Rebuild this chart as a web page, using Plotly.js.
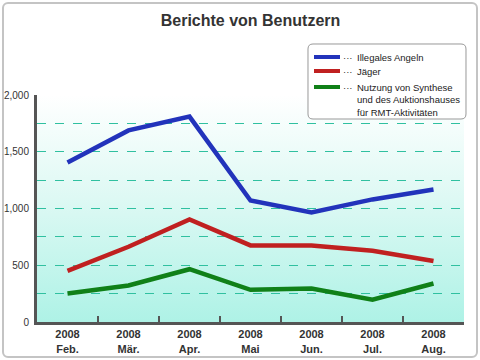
<!DOCTYPE html>
<html>
<head>
<meta charset="utf-8">
<script src="https://cdn.plot.ly/plotly-3.0.1.min.js"></script>
<style>
html,body{margin:0;padding:0;background:#fff;}
#wrap{position:relative;width:480px;height:360px;overflow:hidden;}
#chart{width:480px;height:360px;}
.box{position:absolute;pointer-events:none;box-sizing:border-box;}
#outer{left:2px;top:2px;width:476px;height:356px;border:2px solid #c4c4c4;border-radius:6px;}
</style>
</head>
<body>
<div id="wrap">
<div id="chart"></div>
<div class="box" id="outer"></div>
</div>
<script>
// ---- data ----
const categories = ['2008<br>Feb.', '2008<br>Mär.', '2008<br>Apr.', '2008<br>Mai', '2008<br>Jun.', '2008<br>Jul.', '2008<br>Aug.'];
const illegalesAngeln = [1405, 1688, 1810, 1070, 965, 1080, 1167];
const jaeger = [450, 663, 903, 675, 675, 628, 538];
const synthese = [251, 322, 465, 284, 295, 197, 339];
const seriesNames = ['Illegales Angeln', 'Jäger', 'Nutzung von Synthese<br>und des Auktionshauses<br>für RMT-Aktivitäten'];
const yTickVals = [0, 500, 1000, 1500, 2000];
const yTickText = ['0', '500', '1,000', '1,500', '2,000'];

// ---- layout helpers (pixel -> paper) ----
const L = 37, R = 464, T = 95, B = 322;
const px = x => (x - L) / (R - L);
const py = y => (B - y) / (B - T);
function roundRect(x0, y0, x1, y1, r) {
  const f = (x, y) => px(x).toFixed(5) + ',' + py(y).toFixed(5);
  return 'M' + f(x0 + r, y0) + ' L' + f(x1 - r, y0) + ' Q' + f(x1, y0) + ' ' + f(x1, y0 + r) +
    ' L' + f(x1, y1 - r) + ' Q' + f(x1, y1) + ' ' + f(x1 - r, y1) +
    ' L' + f(x0 + r, y1) + ' Q' + f(x0, y1) + ' ' + f(x0, y1 - r) +
    ' L' + f(x0, y0 + r) + ' Q' + f(x0, y0) + ' ' + f(x0 + r, y0) + ' Z';
}

const bgSvg = '<svg xmlns="http://www.w3.org/2000/svg" width="427" height="227" viewBox="0 0 427 227" preserveAspectRatio="none">' +
  '<defs><linearGradient id="g" x1="0" y1="0" x2="0" y2="1">' +
  '<stop offset="0" stop-color="#ffffff"/><stop offset="0.45" stop-color="#def9f4"/><stop offset="1" stop-color="#aef2e6"/>' +
  '</linearGradient></defs><rect width="427" height="227" fill="url(#g)"/></svg>';
const bgUri = 'data:image/svg+xml;base64,' + btoa(bgSvg);

const lineColors = ['#2233bb', '#c02020', '#108018'];
const seriesValues = [illegalesAngeln, jaeger, synthese];
const traces = seriesValues.map((vals, i) => ({
  type: 'scatter', mode: 'lines', x: categories, y: vals, name: seriesNames[i],
  line: {color: lineColors[i], width: 4.5}, showlegend: false
}));

const fam = '"Liberation Sans", Arial, sans-serif';

// custom legend (rounded box, short line samples, dotted leaders)
const legRowY = [57, 71, 87];
const shapes = [
  {type: 'path', xref: 'paper', yref: 'paper', path: roundRect(308, 44, 466, 119, 5), line: {color: '#999', width: 1}, fillcolor: '#fff', layer: 'above'}
];
const annotations = [];
seriesNames.forEach((name, i) => {
  shapes.push({type: 'line', xref: 'paper', yref: 'paper', x0: px(314), x1: px(340), y0: py(legRowY[i]), y1: py(legRowY[i]),
    line: {color: lineColors[i], width: 4}, layer: 'above'});
  annotations.push({xref: 'paper', yref: 'paper', x: px(342), y: py(legRowY[i] + 0.5), xanchor: 'left', yanchor: 'middle',
    text: '···', showarrow: false, borderpad: 0, font: {family: fam, size: 9.5, color: '#333'}});
  annotations.push({xref: 'paper', yref: 'paper', x: px(356), y: py(legRowY[i] - 6), xanchor: 'left', yanchor: 'top',
    text: name, align: 'left', showarrow: false, borderpad: 0, font: {family: fam, size: 9.5, color: '#222'}});
});

const layout = {
  width: 480, height: 360,
  margin: {l: L, r: 480 - R, t: T, b: 360 - B},
  paper_bgcolor: '#fff', plot_bgcolor: 'rgba(0,0,0,0)',
  font: {family: fam, color: '#333'},
  title: {text: 'Berichte von Benutzern', x: 0.5, xref: 'paper', xanchor: 'center', y: 0.958, yref: 'container',
    font: {family: fam, size: 16, color: '#333', weight: 'bold'}},
  xaxis: {
    type: 'category', range: [-0.5, 6.5], tickson: 'boundaries', ticks: 'inside', ticklen: 6, tickwidth: 2, tickcolor: '#555',
    showline: true, linecolor: '#555', linewidth: 3, showgrid: false, zeroline: false,
    tickfont: {family: fam, size: 11, color: '#333', weight: 'bold'}, fixedrange: true
  },
  yaxis: {
    range: [0, 2000], tickvals: yTickVals, ticktext: yTickText, ticks: '', showline: true, linecolor: '#555', linewidth: 3,
    showgrid: true, gridcolor: '#30c0a0', griddash: 'dash', gridwidth: 1, zeroline: false,
    minor: {dtick: 250, tick0: 0, showgrid: true, gridcolor: '#30c0a0', griddash: 'dash', gridwidth: 1, ticks: ''},
    tickfont: {family: fam, size: 10, color: '#333'}, ticklabelstandoff: 3, fixedrange: true
  },
  showlegend: false,
  images: [{source: bgUri, xref: 'paper', yref: 'paper', x: 0, y: 1, sizex: 1, sizey: 1, sizing: 'stretch', layer: 'below', xanchor: 'left', yanchor: 'top'}],
  shapes: shapes,
  annotations: annotations
};

Plotly.newPlot('chart', traces, layout, {displayModeBar: false, staticPlot: true});
</script>
</body>
</html>
